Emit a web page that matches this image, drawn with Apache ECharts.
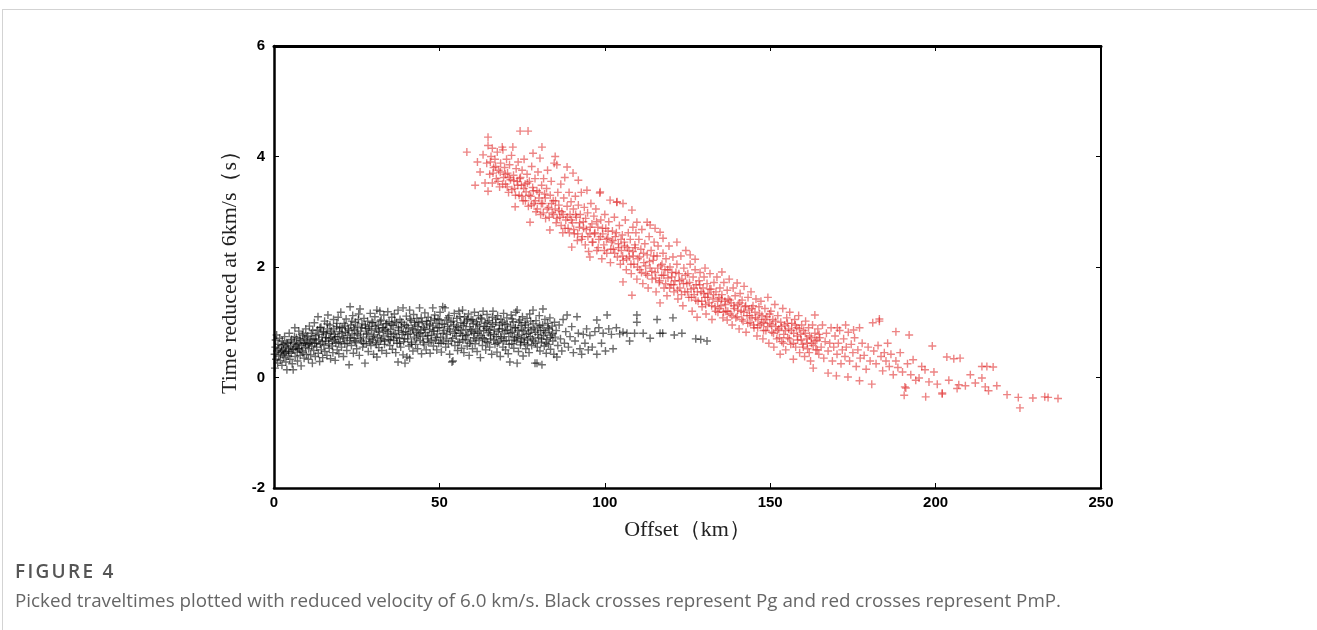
<!DOCTYPE html>
<html>
<head>
<meta charset="utf-8">
<script src="https://cdn.jsdelivr.net/npm/echarts@6/dist/echarts.min.js"></script>
<style>
html,body{margin:0;padding:0;background:#fff;width:1317px;height:630px;overflow:hidden;}
#frame{position:absolute;left:2px;top:9px;width:1330px;height:640px;border:1px solid #d3d3d3;box-sizing:border-box;}
#chart{position:absolute;left:0;top:0;width:1317px;height:630px;}
#cap1{position:absolute;left:15px;top:558px;font-family:"Open Sans",sans-serif;font-size:19px;font-weight:600;color:#555;letter-spacing:2.3px;white-space:nowrap;}
#cap2{position:absolute;left:15px;top:587px;font-family:"Open Sans",sans-serif;font-size:18.8px;color:#666;white-space:nowrap;}
</style>
</head>
<body>
<div id="frame"></div>
<div id="chart"></div>
<div id="cap1">FIGURE 4</div>
<div id="cap2">Picked traveltimes plotted with reduced velocity of 6.0 km/s. Black crosses represent Pg and red crosses represent PmP.</div>
<script>
// ---- data: [offset km, reduced time s] ----
const xTicks = [0, 50, 100, 150, 200, 250];
const yTicks = [-2, 0, 2, 4, 6];

const pgNear = [[0.2,0.42],[0.3,0.17],[0.4,0.55],[0.5,0.68],[0.6,0.33],[0.8,0.77],[0.9,0.48],[1.1,0.26],[1.2,0.6],[1.4,0.39],[1.5,0.52],[1.7,0.71],[1.9,0.31],[2.0,0.45],[2.2,0.58],[2.4,0.22],[2.5,0.66],[2.7,0.41],[2.9,0.5],[3.0,0.36],[3.2,0.74],[3.4,0.55],[3.6,0.28],[3.7,0.47],[3.9,0.14],[4.1,0.62],[4.3,0.39],[4.4,0.53],[4.6,0.8],[4.8,0.33],[5.0,0.57],[5.2,0.44],[5.3,0.69],[5.5,0.25],[5.8,0.14],[5.9,0.51],[6.1,0.63],[6.3,0.9],[6.4,0.38],[6.6,0.55],[6.8,0.72],[7.0,0.46],[7.1,0.3],[7.3,0.61],[7.5,0.84],[7.7,0.52],[7.9,0.4],[8.0,0.67],[8.2,0.21],[8.4,0.58],[8.6,0.77],[8.7,0.45],[8.9,0.63],[9.1,0.35],[9.3,0.7],[9.5,0.54],[9.6,0.88],[9.8,0.42],[10.0,0.61],
[10.2,0.75],[10.4,0.33],[10.5,0.52],[10.7,0.93],[10.9,0.64],[11.1,0.41],[11.3,0.8],[11.4,0.57],[11.6,0.26],[11.8,0.7],[12.0,0.49],[12.2,0.99],[12.3,0.62],[12.5,0.38],[12.7,0.76],[12.9,0.55],[13.1,0.86],[13.3,1.1],[13.4,0.44],[13.6,0.68],[13.8,0.29],[14.0,0.6],[14.2,0.91],[14.3,0.5],[14.5,0.73],[14.7,0.36],[14.9,0.83],[15.1,0.58],[15.3,1.02],[15.4,0.47],[15.6,0.66],[15.8,0.79],[16.0,0.4],[16.2,0.88],[16.3,1.13],[16.5,0.61],[16.7,0.53],[16.9,0.95],[17.1,0.34],[17.2,0.72],[17.4,0.84],[17.6,0.57],[17.8,0.45],[18.0,1.05],[18.2,0.69],[18.3,0.78],[18.5,0.31],[18.7,0.62],[18.9,0.92],[19.1,0.5],[19.3,0.74],[19.4,1.09],[19.6,0.43],[19.8,0.83],[20.0,0.65]];

const pgMid = [[20.2,1.18],[20.4,0.55],[20.6,0.9],[20.8,0.72],[21.0,0.38],[21.2,0.98],[21.4,0.61],[21.6,0.82],[21.8,1.06],[22.0,0.49],[22.2,0.76],[22.4,0.88],[22.7,0.23],[22.9,0.67],[23.0,1.28],[23.2,0.95],[23.4,0.58],[23.6,0.79],[23.8,1.12],[24.0,0.44],[24.2,0.71],[24.4,0.86],[24.6,1.0],[24.8,0.63],[25.0,0.52],[25.2,0.93],[25.4,0.77],[25.6,1.15],[25.8,0.4],[26.0,1.24],[26.2,0.84],[26.4,0.66],[26.6,0.97],[26.8,0.55],[27.0,0.73],[27.2,1.07],[27.5,0.26],[27.7,0.89],[27.9,0.61],[28.1,0.8],[28.3,1.02],[28.5,0.47],[28.7,0.7],[28.9,0.92],[29.1,1.16],[29.3,0.58],[29.5,0.85],[29.7,0.68],[29.9,0.99],[30.1,0.42],[30.3,0.77],[30.5,1.1],[30.7,0.63],[30.9,0.88],[31.1,0.37],[31.1,1.22],[31.3,0.72],[31.5,0.95],[31.7,0.54],[31.9,0.82],[32.0,1.2],[32.2,0.66],[32.4,1.04],[32.6,0.49],[32.8,0.9],[33.0,0.75],[33.2,1.13],[33.4,0.6],[33.6,0.86],[33.8,0.97],[34.0,0.44],[34.2,0.79],[34.4,1.19],[34.6,0.69],[34.8,1.01],
[35.0,0.58],[35.2,0.87],[35.4,0.74],[35.6,1.09],[35.8,0.51],[36.0,0.94],[36.2,0.67],[36.4,1.15],[36.6,0.8],[36.8,0.45],[37.0,0.99],[37.2,0.62],[37.5,1.22],[37.5,0.28],[37.7,0.85],[37.9,0.71],[38.1,1.05],[38.3,0.55],[38.5,0.92],[38.7,0.78],[39.0,1.26],[39.0,0.41],[39.2,0.65],[39.4,0.96],[39.6,0.26],[39.8,0.83],[40.0,1.11],[40.2,0.37],[40.4,0.7],[40.6,0.9],[40.8,0.57],[41.0,1.22],[41.0,0.35],[41.2,0.79],[41.4,1.03],[41.6,0.64],[41.8,0.88],[42.0,0.48],[42.2,1.14],[42.4,0.73],[42.6,0.95],[42.8,0.6],[43.0,0.82],[43.2,1.07],[43.4,0.52],[43.6,0.77],[43.8,0.99],[44.0,1.26],[44.2,0.67],[44.4,0.86],[44.6,0.43],[44.8,1.01],[45.0,0.74],[45.2,0.91],[45.4,0.59],[45.6,1.17],[45.8,0.81],[46.0,0.5],[46.2,0.97],[46.4,0.7],[46.6,1.09],[46.8,0.63],[47.0,0.87],[47.2,0.44],[47.4,1.03],[47.6,0.76],[48.0,1.26],[48.0,0.93],[48.2,0.57],[48.4,0.84],[48.6,1.13],[48.8,0.68],[49.0,0.98],[49.2,0.5],[49.4,0.79],[49.6,1.06],[49.8,0.62]];

const pgFar = [[50.0,0.9],[50.2,1.18],[50.4,0.73],[50.6,0.46],[50.8,0.97],[51.0,1.28],[51.2,0.66],[51.4,0.85],[51.7,1.26],[51.9,0.55],[52.1,1.04],[52.3,0.78],[52.5,0.92],[52.7,0.61],[52.9,1.12],[53.1,0.42],[53.3,0.83],[53.5,1.0],[53.8,0.28],[54.0,0.71],[54.1,0.3],[54.3,0.95],[54.5,1.16],[54.7,0.58],[54.9,0.86],[55.1,0.75],[55.3,1.07],[55.5,0.49],[55.7,0.9],[55.9,1.2],[56.1,0.64],[56.3,0.8],[56.5,0.99],[56.7,0.53],[57.0,1.22],[57.0,0.76],[57.2,0.94],[57.4,0.45],[57.6,1.1],[57.8,0.69],[58.0,0.87],[58.2,1.02],[58.4,0.57],[58.6,0.78],[58.8,1.15],[59.0,0.4],[59.2,0.92],[59.4,0.66],[59.6,1.05],[59.8,0.83],[60.0,0.52],[60.2,0.97],[60.4,0.72],[60.6,1.18],[60.8,0.61],[61.0,0.88],[61.2,1.01],[61.4,0.47],[61.6,0.8],[61.8,1.12],[62.0,0.67],[62.2,0.93],[62.4,0.36],[62.6,0.76],[62.8,1.06],[63.0,0.58],[63.2,1.2],[63.4,0.85],[63.6,0.7],[63.8,0.98],[64.0,0.5],[64.2,0.89],[64.4,1.14],[64.6,0.63],[64.8,0.81],
[65.0,1.03],[65.2,0.55],[65.4,0.77],[65.6,0.92],[65.8,0.42],[66.0,1.09],[66.2,1.2],[66.4,0.68],[66.6,0.86],[66.8,0.6],[67.0,0.99],[67.2,0.74],[67.4,0.46],[67.6,1.12],[67.8,0.83],[68.0,0.64],[68.2,0.95],[68.4,0.38],[68.6,1.05],[68.8,0.71],[69.0,0.88],[69.2,0.55],[69.4,1.16],[69.6,0.79],[69.8,0.97],[70.0,0.5],[70.2,0.67],[70.4,1.08],[70.6,0.86],[70.8,0.43],[71.0,0.74],[71.3,0.28],[71.5,0.93],[71.7,1.13],[71.9,0.61],[72.1,0.82],[72.3,1.01],[72.5,0.53],[72.7,0.72],[72.9,0.9],[73.1,1.18],[73.3,0.66],[73.5,0.26],[73.5,1.22],[73.7,0.85],[73.9,0.47],[74.1,0.77],[74.3,1.04],[74.5,0.59],[74.7,0.94],[74.9,0.7],[75.1,1.1],[75.3,0.39],[75.5,0.84],[75.7,0.63],[75.9,0.99],[76.1,0.52],[76.3,0.78],[76.5,1.07],[76.7,0.68],[76.9,0.9],[77.1,0.45],[77.3,1.15],[77.5,0.74],[77.7,0.86],[77.9,0.58],[78.3,1.22],[78.3,0.97],[78.5,0.66],[78.9,0.26],[79.0,0.82],[79.2,1.03],[79.5,0.26],[79.6,0.55],[79.8,0.91],[80.0,0.72],[80.2,1.12],[80.4,0.48],[80.6,0.85],[80.8,0.64],[81.0,0.23],[81.2,0.95],[81.3,1.24],[81.5,0.76],[81.7,0.57],[81.9,1.05],[82.1,0.81],[82.3,0.44],[82.5,0.69],[82.7,0.98],[83.0,0.6],[83.2,0.88],[83.4,1.08],[83.6,0.51],[83.8,0.77],[84.1,0.93],[84.3,0.66],[84.6,0.42],[84.8,1.0],[85.0,0.73],[85.3,0.85],[85.5,0.37],[85.8,0.58]];

const pgCore = [[2.3,0.48],[2.8,0.6],[3.3,0.44],[3.8,0.63],[4.5,0.47],[5.1,0.66],[5.6,0.5],[6.2,0.74],[6.7,0.6],[7.2,0.52],[7.8,0.7],[8.3,0.48],[8.8,0.8],[9.4,0.62],[9.9,0.73],[10.6,0.6],[11.2,0.68],[11.7,0.85],[12.4,0.7],[12.8,0.62],[13.5,0.78],[13.9,0.9],[14.6,0.65],[15.0,0.82],[15.7,0.72],[16.1,0.97],[16.6,0.7],[17.0,0.8],[17.7,0.66],[18.1,0.88],[18.6,0.74],[19.0,0.98],[19.5,0.63],[19.9,0.9],[20.5,0.8],[21.1,0.7],[21.5,0.93],[22.1,0.62],[22.6,0.85],[23.1,0.72],[23.5,1.02],[24.1,0.9],[24.5,0.66],[25.1,0.8],[25.5,1.05],[26.1,0.7],[26.5,0.9],[27.1,0.62],[27.6,0.95],[28.0,0.78],[28.6,0.88],[29.0,0.65],[29.6,1.0],[30.0,0.74],[30.6,0.93],[31.0,0.6],[31.6,0.84],[32.1,1.02],[32.5,0.7],[33.1,0.9],[33.5,0.66],[34.1,0.98],[34.5,0.83],[35.1,0.68],[35.5,0.95],[36.1,0.78],[36.5,1.02],[37.1,0.72],[37.6,0.9],[38.0,0.62],[38.6,1.0],[39.1,0.82],[39.5,0.7],[40.1,0.94],[40.5,0.78],[41.1,1.06],[41.5,0.6],[42.1,0.86],[42.5,1.0],[43.1,0.7],[43.5,0.92],[44.1,0.8],[44.5,1.08],[45.1,0.64],[45.5,0.88],[46.1,1.02],[46.5,0.76],[47.1,0.95],[47.5,0.66],[48.1,0.84],[48.5,1.06],[49.1,0.72],[49.5,0.9],[50.1,1.04],[50.5,0.62],[51.1,0.8],[51.5,0.96],[52.0,0.7],[52.6,1.08],[53.0,0.88],[53.6,0.66],[54.2,1.02],[54.6,0.8],[55.2,0.92],[55.6,0.64],[56.2,1.1],[56.6,0.85],[57.1,0.68],[57.5,0.98],[58.1,0.76],[58.5,1.06],[59.1,0.62],[59.5,0.86],[60.1,1.04],[60.5,0.8],[61.1,0.7],[61.5,0.96],[62.1,0.84],[62.5,1.08],[63.1,0.72],[63.5,0.92],[64.1,0.65],[64.5,1.0],[65.1,0.86],[65.5,0.7],[66.1,0.96],[66.5,0.78],[67.1,1.06],[67.5,0.62],[68.1,0.88],[68.5,0.74],[69.1,1.0],[69.5,0.66],[70.1,0.85],[70.5,0.96],[71.1,0.6],[71.6,0.8],[72.0,1.06],[72.6,0.68],[73.0,0.9],[73.6,0.74],[74.0,1.0],[74.6,0.64],[75.0,0.86],[75.6,0.72],[76.0,0.95],[76.6,0.6],[77.0,0.8],[77.6,1.02],[78.1,0.7],[78.6,0.88],[79.1,0.62],[79.7,0.78],[80.3,0.94],[80.9,0.7],[81.6,0.85],[82.2,0.62],[82.9,0.9],[83.5,0.72],[84.2,0.8]];

const pgSparse = [[86.2,0.95],[86.6,0.7],[87.0,0.48],[87.4,1.05],[87.8,0.62],[88.2,0.83],[88.6,1.13],[89.0,0.55],[89.5,0.74],[90.0,0.92],[90.5,0.45],[91.0,0.66],[91.6,1.1],[92.0,0.8],[92.5,0.52],[93.0,0.42],[93.5,0.78],[94.0,0.62],[94.5,0.88],[95.0,0.5],[95.5,0.76],[96.2,0.55],[97.0,0.83],[97.6,1.04],[97.6,0.42],[98.2,0.9],[99.0,0.62],[99.5,0.8],[100.2,0.48],[100.7,1.13],[101.2,0.88],[102.0,0.78],[102.5,0.52],[103.5,0.9],[104.5,0.79],[105.5,0.82],[106.7,0.8],[107.5,0.66],[109.0,0.8],[109.7,1.13],[109.7,1.0],[111.6,0.8],[113.7,0.71],[115.8,1.05],[116.7,0.8],[117.5,0.8],[120.6,1.08],[121.0,0.77],[123.3,0.8],[127.5,0.7],[129.0,0.69],[130.9,0.66]];

const pmpUpper = [[58.3,4.08],[60.8,3.48],[61.5,3.9],[62.3,3.72],[63.2,4.03],[63.8,3.52],[64.3,3.88],[64.7,4.35],[64.7,4.2],[64.7,3.37],[65.2,3.68],[65.6,4.0],[66.0,3.52],[66.0,4.15],[66.4,3.8],[66.8,3.95],[67.2,3.6],[67.5,4.08],[67.9,3.75],[68.2,3.45],[68.5,3.88],[69.0,4.17],[69.2,4.12],[69.4,3.62],[69.7,3.8],[70.0,3.5],[70.3,3.95],[70.6,3.7],[70.9,3.35],[71.2,3.85],[71.5,3.58],[71.8,4.02],[72.2,4.17],[72.4,3.66],[72.7,3.42],[72.9,3.09],[73.2,3.78],[73.5,3.55],[73.8,3.9],[74.1,3.3],[74.4,4.46],[74.5,3.62],[74.8,3.48],[75.0,3.75],
[75.3,3.2],[75.6,3.95],[75.9,3.5],[76.2,3.36],[76.5,3.68],[76.8,4.46],[76.9,3.1],[77.2,3.55],[77.4,2.81],[77.6,3.28],[77.9,3.82],[78.2,3.44],[78.3,4.06],[78.6,3.15],[78.9,3.6],[79.2,3.0],[79.5,3.38],[79.8,3.72],[80.1,3.25],[80.4,3.97],[80.6,2.95],[80.9,3.48],[81.0,4.17],[81.2,3.15],[81.5,3.6],[81.8,3.32],[82.1,2.88],[82.4,3.42],[82.7,3.75],[83.0,3.08],[83.4,2.67],[83.5,3.3],[83.8,3.55],[84.1,2.98],[84.4,3.2],[84.7,3.88],[85.0,4.0],[85.0,3.05],[85.3,2.8],[85.5,3.85],[85.8,3.35],[86.1,3.12],[86.4,2.9],[86.7,3.5],[87.0,3.0],[87.3,2.62],[87.6,3.25],[87.9,3.62],[88.2,2.85],[88.6,3.81],[88.6,3.1],[88.9,2.7],[89.2,3.35],[89.5,2.95],[89.8,3.18],[90.0,2.36]];

const pmpMiddle = [[90.2,2.8],[90.4,3.7],[90.5,3.05],[90.8,2.6],[91.1,3.28],[91.4,2.9],[91.7,2.48],[92.0,3.57],[92.0,3.12],[92.3,2.72],[92.6,2.95],[92.9,3.35],[93.2,2.55],[93.5,2.82],[93.8,3.08],[94.1,2.4],[94.4,2.68],[94.6,3.39],[94.8,2.98],[95.1,2.28],[95.5,2.18],[95.5,2.6],[95.8,3.15],[96.1,2.78],[96.4,2.45],[96.7,2.92],[97.0,2.62],[97.3,3.05],[97.6,2.3],[97.9,2.72],[98.2,2.5],[98.5,3.34],[98.6,3.36],[98.8,2.85],[99.1,2.15],[99.4,2.6],[99.7,2.4],[100.0,2.95],[100.3,2.7],[100.6,2.25],[100.9,2.52],[101.2,2.82],[101.6,3.21],[101.7,2.08],[102.0,2.45],[102.3,2.65],[102.6,2.32],[102.9,2.9],[103.2,2.55],[103.6,3.17],[103.7,3.18],[103.8,2.18],[104.1,2.42],[104.4,2.75],[104.7,2.05],[105.0,2.3],[105.5,3.15],[105.5,1.73],
[105.3,2.58],[105.6,2.12],[105.9,2.45],[106.2,2.85],[106.5,1.95],[106.8,2.35],[107.1,2.62],[107.4,2.18],[107.7,2.5],[108.0,1.88],[108.2,3.03],[108.2,1.49],[108.5,2.72],[108.5,2.28],[108.8,2.05],[109.1,2.4],[109.4,2.62],[109.7,2.81],[109.7,1.78],[110.0,2.15],[110.3,2.5],[110.6,1.95],[110.9,2.32],[111.2,2.68],[111.5,1.7],[111.8,2.08],[112.1,2.42],[112.4,1.88],[112.8,2.81],[112.8,2.22],[113.1,1.62],[113.4,2.55],[113.7,2.76],[113.7,1.98],[114.0,2.3],[114.3,1.78],[114.6,2.12],[114.9,2.45],[115.2,2.7],[115.2,1.9],[115.5,1.55],[115.8,2.2],[116.1,2.38],[116.4,1.72],[116.7,2.63],[116.7,1.35],[116.9,2.02],[117.2,1.85],[117.6,2.52],[117.6,2.25],[117.9,1.62],[118.2,1.95],[118.5,2.15],[118.8,1.48],[119.1,1.8],[119.4,2.38],[119.7,2.0],[120.0,1.68]];

const pmpLower = [[120.3,1.9],[120.6,2.18],[120.9,1.55],[121.2,1.75],[121.8,2.45],[121.8,2.05],[122.1,1.42],[122.4,1.88],[122.7,1.62],[123.0,2.2],[123.3,1.78],[123.6,1.3],[123.9,1.98],[124.2,1.55],[124.5,2.3],[124.8,1.7],[125.1,1.88],[125.4,1.45],[125.8,2.22],[125.8,2.05],[126.1,1.6],[126.4,1.2],[126.7,1.82],[127.0,1.5],[127.3,2.14],[127.3,1.95],[127.6,1.68],[127.9,1.09],[128.2,1.38],[128.5,1.75],[128.8,1.9],[129.1,1.55],[129.4,1.28],[129.7,1.62],[130.0,1.82],[130.3,1.98],[130.3,1.45],[130.6,1.15],[130.9,1.7],[131.2,1.52],[131.5,1.35],[131.8,1.88],[132.1,1.6],[132.4,1.05],[132.7,1.42],[133.0,1.72],[133.3,1.28],[133.6,1.55],[133.9,1.82],[134.2,1.18],[134.5,1.45],[134.8,1.62],
[135.1,1.3],[135.4,1.91],[135.4,1.5],[135.7,1.08],[136.0,1.72],[136.3,1.38],[136.6,1.2],[137.0,1.04],[137.0,1.58],[137.3,1.42],[137.6,1.78],[137.9,1.15],[138.2,1.35],[138.5,0.95],[138.8,1.62],[139.1,1.25],[139.4,1.48],[140.0,1.71],[140.0,1.1],[140.3,1.32],[140.6,0.88],[140.9,1.52],[141.2,1.2],[141.5,1.4],[141.8,1.02],[142.1,1.65],[142.4,1.28],[142.7,0.82],[143.0,1.12],[143.3,1.45],[143.6,1.22],[143.9,0.99],[144.2,1.55],[144.5,1.08],[144.8,1.3],[145.1,0.9],[145.4,1.18],[145.7,1.42],[146.0,0.75],[146.3,1.05],[146.6,1.28],[146.9,0.95],[147.2,1.38],[147.5,1.12],[147.8,0.7],[148.1,1.0],[148.4,1.25],[148.7,0.85],[149.0,1.1],[149.3,1.45],[149.6,0.62],[149.9,0.98]];

const pmpCore = [[65.4,3.9],[66.2,3.7],[67.0,3.82],[67.7,3.55],[68.4,3.72],[69.1,3.5],[69.9,3.68],[70.5,3.45],[71.1,3.62],[71.9,3.4],[72.5,3.56],[73.0,3.3],[73.7,3.48],[74.3,3.6],[74.9,3.28],[75.5,3.42],[76.0,3.2],[76.6,3.52],[77.1,3.3],[77.8,3.12],[78.4,3.38],[79.0,3.2],[79.6,3.05],[80.2,3.35],[80.8,3.15],[81.4,2.98],[82.0,3.25],[82.6,3.05],[83.2,2.9],[83.9,3.15],[84.5,2.95],[85.1,3.2],[85.6,2.88],[86.2,3.02],[86.8,2.75],[87.4,2.95],[88.0,2.7],[88.7,2.9],[89.3,2.62],[89.9,2.85],[90.6,2.68],[91.2,2.95],[91.8,2.6],[92.4,2.8],[93.0,2.5],[93.6,2.7],[94.2,2.88],[94.9,2.55],[95.6,2.72],[96.2,2.45],[96.9,2.6],[97.5,2.82],[98.0,2.35],[98.7,2.55],[99.3,2.7],[99.9,2.3],[100.5,2.5],[101.0,2.65],[101.8,2.32],[102.4,2.48],[103.0,2.25],[103.5,2.62],[104.2,2.35],[104.9,2.5],[105.4,2.2],[106.0,2.38],[106.6,2.15],[107.3,2.3],[107.9,2.05],[108.6,2.2],[109.2,2.35],[109.9,2.0],[110.5,2.18],[111.1,1.9],[111.7,2.25],[112.3,2.02],[112.9,1.85],[113.5,2.1],[114.2,1.92],[114.8,2.2],[115.4,1.8],[116.0,1.98],[116.6,1.75],[117.3,2.05],[117.8,1.85],[118.4,1.7],[119.0,1.95],[119.6,1.62],[120.2,1.82],[120.8,1.68],[121.5,1.9],[122.0,1.58],[122.6,1.75],[123.2,1.5],[123.8,1.7],[124.4,1.85],[125.0,1.55],[125.6,1.72],[126.2,1.45],[126.9,1.62],[127.5,1.4],[128.0,1.55],[128.7,1.68],[129.3,1.38],[129.9,1.52],[130.5,1.32],[131.1,1.45],[131.7,1.6],[132.3,1.3],[132.9,1.5],[133.5,1.2],[134.1,1.38],[134.7,1.25],[135.3,1.42],[135.9,1.18],[136.5,1.32],[137.2,1.2],[137.8,1.4],[138.4,1.12],[139.0,1.3],[139.6,1.08],[140.2,1.22],[140.8,1.35],[141.4,1.05],[142.0,1.18],[142.6,1.3],[143.2,0.98],[143.8,1.12],[144.4,1.25],[145.0,0.95],[145.6,1.08],[146.2,0.9],[146.8,1.15],[147.4,0.98],[148.0,0.85],[148.6,1.05],[149.2,0.92],[149.8,1.15],[150.4,0.95],[151.0,0.8],[151.6,1.02],[152.2,0.85],[152.8,0.72],[153.4,0.92],[154.0,0.62],[154.6,0.85],[155.2,0.98],[155.8,0.7],[156.4,0.85],[157.0,0.62],[157.6,0.95],[158.2,0.75],[158.8,0.88],[159.4,0.68],[160.0,0.55],[160.6,0.8],[161.2,0.62],[161.8,0.45],[162.4,0.72],[163.0,0.58],[163.6,0.66],[164.2,0.5],[164.8,0.78]];

const pmpTail = [[150.2,1.2],[150.5,0.82],[150.8,1.05],[151.1,0.55],[151.4,1.32],[151.7,0.92],[152.0,0.7],[152.3,1.12],[152.6,0.88],[153.0,0.42],[153.2,1.0],[153.5,0.65],[153.8,1.25],[154.1,0.78],[154.4,0.95],[154.7,0.5],[155.0,1.08],[155.3,0.72],[155.6,0.88],[155.9,1.18],[156.2,0.6],[156.5,0.98],[157.0,0.33],[157.1,0.8],[157.4,1.05],[157.7,0.55],[158.0,0.9],[158.3,0.68],[158.6,1.12],[158.9,0.45],[159.2,0.78],[159.5,0.95],[159.8,0.6],[160.1,0.85],[160.4,0.38],[160.7,1.02],[161.0,0.7],[161.3,0.52],[161.6,0.9],[161.9,0.75],[162.2,0.3],[162.5,0.62],[162.8,0.95],[163.0,0.17],[163.5,1.13],[163.5,0.8],[163.8,0.5],[164.1,0.68],[164.4,0.88],[164.7,0.42],
[165.0,0.72],[165.4,0.55],[165.8,0.95],[166.2,0.35],[166.6,0.65],[167.0,0.8],[167.5,0.08],[167.5,0.48],[168.0,0.62],[168.4,0.9],[168.8,0.3],[169.2,0.55],[169.6,0.75],[170.0,0.03],[170.2,0.42],[170.3,0.9],[170.6,0.62],[171.0,0.85],[171.4,0.25],[171.8,0.5],[172.2,0.7],[172.6,0.38],[172.8,0.95],[173.0,0.55],[173.5,0.01],[173.6,0.82],[174.0,0.3],[174.5,0.6],[175.0,0.45],[175.2,0.86],[175.5,0.72],[176.0,0.2],[176.5,0.5],[177.0,-0.06],[177.0,0.9],[177.2,0.35],[177.8,0.62],[178.4,0.4],[179.0,0.15],[179.6,0.55],[180.2,0.3],[180.7,-0.12],[181.0,0.99],[181.3,0.48],[182.0,0.25],[182.6,0.58],[183.0,1.06],[183.0,1.02]];

const pmpFar = [[183.5,0.38],[184.0,0.12],[184.5,0.45],[185.0,0.3],[185.5,0.62],[186.0,0.2],[186.5,0.42],[187.2,0.05],[188.0,0.83],[188.0,0.3],[188.6,0.18],[189.3,0.45],[190.0,0.1],[190.5,-0.32],[190.7,-0.17],[191.0,-0.19],[191.5,0.25],[192.0,0.77],[192.5,0.05],[193.2,0.32],[194.0,-0.05],[195.0,-0.01],[195.8,0.2],[196.8,0.14],[197.0,-0.35],[198.0,-0.08],[199.0,0.57],[199.5,0.1],[200.5,-0.12],[202.0,-0.3],[202.0,-0.28],[203.4,0.37],[204.0,-0.05],[205.5,0.34],[206.5,-0.2],[207.0,-0.13],[207.4,0.35],[209.0,-0.15],[210.5,0.05],[212.0,-0.1],[214.0,0.2],[214.0,-0.01],[215.0,-0.17],[215.5,0.2],[216.0,-0.24],[217.4,0.19],[218.5,-0.15],[221.6,-0.31],[225.0,-0.36],[225.5,-0.55],[229.4,-0.37],[233.0,-0.35],[234.0,-0.36],[237.0,-0.38]];

// ---- chart ----
const cross = 'path://M3.3,0h1.4v3.3h3.3v1.4h-3.3v3.3h-1.4v-3.3h-3.3v-1.4h3.3z';
const chart = echarts.init(document.getElementById('chart'), null, {renderer: 'canvas'});
const tickFont = {color: '#000', fontFamily: '"Liberation Sans", Arial, sans-serif', fontWeight: 'bold', fontSize: 15};
const nameFont = {color: '#222', fontFamily: '"Liberation Serif", "Times New Roman", serif', fontSize: 22};
const axisLine = {show: true, onZero: false, lineStyle: {color: '#000', width: 2.5}};
const tick = {show: true, inside: true, length: 5, lineStyle: {color: '#000', width: 1}};

chart.setOption({
  animation: false,
  backgroundColor: 'transparent',
  grid: {left: 274, top: 46, width: 827, height: 442, containLabel: false},
  xAxis: [
    {type: 'value', position: 'bottom', min: xTicks[0], max: xTicks[xTicks.length - 1], interval: 50,
     axisLine: axisLine, axisTick: tick, splitLine: {show: false},
     axisLabel: Object.assign({margin: 7}, tickFont),
     name: 'Offset（km）', nameLocation: 'middle', nameGap: 31, nameTextStyle: nameFont},
    {type: 'value', position: 'top', min: xTicks[0], max: xTicks[xTicks.length - 1], interval: 50,
     axisLine: {show: true, onZero: false, lineStyle: {color: '#000', width: 3}}, axisTick: tick,
     splitLine: {show: false}, axisLabel: {show: false}}
  ],
  yAxis: [
    {type: 'value', position: 'left', min: yTicks[0], max: yTicks[yTicks.length - 1], interval: 2,
     axisLine: axisLine, axisTick: tick, splitLine: {show: false},
     axisLabel: Object.assign({margin: 9}, tickFont),
     name: 'Time reduced at 6km/s（s）', nameLocation: 'middle', nameGap: 33, nameRotate: 90, nameTextStyle: nameFont},
    {type: 'value', position: 'right', min: yTicks[0], max: yTicks[yTicks.length - 1], interval: 2,
     axisLine: {show: true, onZero: false, lineStyle: {color: '#000', width: 2}}, axisTick: tick,
     splitLine: {show: false}, axisLabel: {show: false}}
  ],
  series: [
    {name: 'Pg', type: 'scatter', xAxisIndex: 0, yAxisIndex: 0, symbol: cross, symbolSize: 8,
     itemStyle: {color: 'rgba(0,0,0,0.72)'}, emphasis: {disabled: true},
     data: pgNear.concat(pgMid, pgFar, pgCore, pgSparse)},
    {name: 'PmP', type: 'scatter', xAxisIndex: 0, yAxisIndex: 0, symbol: cross, symbolSize: 8,
     itemStyle: {color: 'rgba(222,28,28,0.68)'}, emphasis: {disabled: true},
     data: pmpUpper.concat(pmpMiddle, pmpLower, pmpCore, pmpTail, pmpFar)}
  ]
});
</script>
</body>
</html>
